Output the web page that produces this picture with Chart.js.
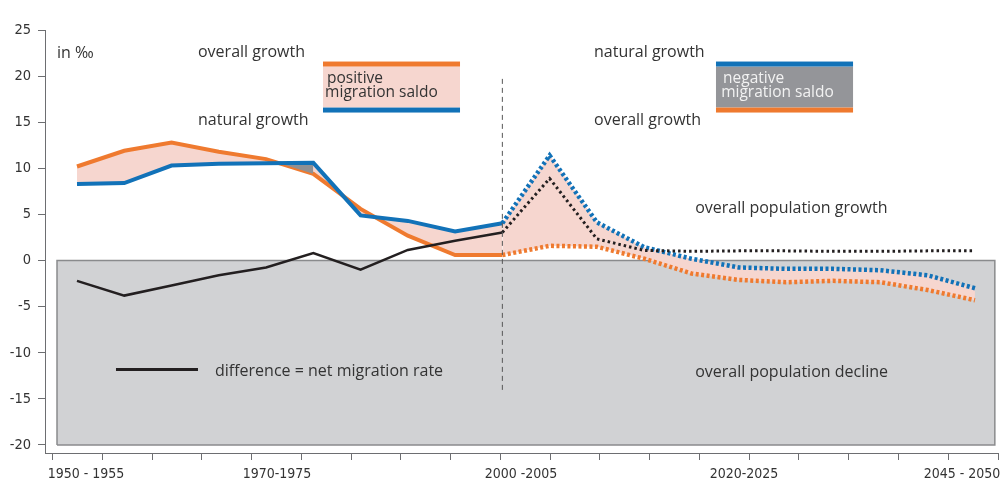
<!DOCTYPE html>
<html><head><meta charset="utf-8">
<script src="https://cdn.jsdelivr.net/npm/chart.js@4.4.1/dist/chart.umd.min.js"></script>
<style>html,body{margin:0;padding:0;background:#fff}canvas{display:block}</style>
</head><body>
<canvas id="c" width="1008" height="487"></canvas>
<script>
// ---- data (rates in per mille, 5-year periods) ----
const periods = ['1950-1955','1955-1960','1960-1965','1965-1970','1970-1975','1975-1980','1980-1985','1985-1990','1990-1995','1995-2000',
                 '2000-2005','2005-2010','2010-2015','2015-2020','2020-2025','2025-2030','2030-2035','2035-2040','2040-2045','2045-2050'];
// observed: periods 0..9 ; projected: periods 9..19
const overallObserved  = [10.2, 11.9, 12.8, 11.8, 11.0, 9.4, 5.6, 2.7, 0.6, 0.6];
const overallProjected = [0.6, 1.6, 1.5, 0.2, -1.4, -2.1, -2.35, -2.2, -2.35, -3.2, -4.3];
const naturalObserved  = [8.3, 8.4, 10.3, 10.5, 10.55, 10.6, 4.9, 4.3, 3.15, 4.05];
const naturalProjected = [4.05, 11.4, 4.15, 1.45, 0.2, -0.75, -0.9, -0.9, -1.05, -1.6, -3.0];
const netObserved      = [-2.2, -3.8, -2.7, -1.6, -0.75, 0.8, -1.0, 1.15, 2.15, 3.05];
const netProjected     = [3.05, 8.9, 2.35, 1.1, 1.0, 1.05, 1.05, 1.0, 1.0, 1.05, 1.05];
const yTickValues = [-20, -15, -10, -5, 0, 5, 10, 15, 20, 25];
const xTickLabels = ['1950 - 1955', '1970-1975', '2000 -2005', '2020-2025', '2045 - 2050'];

// ---- layout / style constants ----
const xLabelPos = [0.669, 4.508, 9.413, 13.896, 18.277]; // on bottom axis units
const xMarkCount = 20;
const ORANGE = '#ef7a2f', BLUE = '#1272b8', BLACK = '#231f20', PINK = '#f6d6cf';
const BOXGRAY = '#d1d2d4', BOXLINE = '#8a8b8d', NEGGRAY = '#949599', AXIS = '#6d6e71', TXT = '#333333';
const TICKFONT = '"Liberation Sans Narrow", "DejaVu Sans Condensed", "Arial Narrow", sans-serif';
const TEXTFONT = '"Open Sans", "DejaVu Sans", sans-serif';

const obs = arr => arr.map((v, i) => ({x: i, y: v}));
const proj = arr => arr.map((v, i) => ({x: i + 9, y: v}));
const boxX0 = -0.423, boxX1 = 19.42;

const datasets = [
  { // 0 grey decline area
    data: [{x: boxX0, y: -20}, {x: boxX0, y: 0}, {x: boxX1, y: 0}, {x: boxX1, y: -20}, {x: boxX0, y: -20}],
    borderColor: BOXLINE, borderWidth: 1.5, backgroundColor: BOXGRAY, fill: 'shape', order: 20
  },
  { // 1 overall observed
    data: obs(overallObserved), borderColor: ORANGE, borderWidth: 4,
    backgroundColor: PINK, fill: {target: 4, above: PINK, below: PINK}, order: 19
  },
  { // 2 grey crossing sliver
    data: obs(overallObserved).slice(3, 6), borderWidth: 0, borderColor: 'rgba(0,0,0,0)',
    fill: {target: 4, above: 'rgba(0,0,0,0)', below: '#8f9093'}, order: 18
  },
  { // 3 overall projected
    data: proj(overallProjected), borderColor: ORANGE, borderWidth: 4.5, borderDash: [3, 2.5],
    backgroundColor: PINK, fill: {target: 5, above: PINK, below: PINK}, order: 17
  },
  { // 4 natural observed
    data: obs(naturalObserved), borderColor: BLUE, borderWidth: 4, fill: false, order: 16
  },
  { // 5 natural projected
    data: proj(naturalProjected), borderColor: BLUE, borderWidth: 4.5, borderDash: [3, 2.5], fill: false, order: 15
  },
  { // 6 net observed
    data: obs(netObserved), borderColor: BLACK, borderWidth: 2.5, fill: false, order: 14
  },
  { // 7 net projected
    data: proj(netProjected), borderColor: BLACK, borderWidth: 3, borderDash: [2.5, 3], fill: false, order: 13
  },
  { // 8 divider between observed and projected
    data: [{x: 9, y: 19.7}, {x: 9, y: -14.4}], borderColor: '#555', borderWidth: 1, borderDash: [5, 4], fill: false, order: 12
  },
  { // 9 legend sample line
    data: [{x: 0.825, y: -11.82}, {x: 2.56, y: -11.82}], borderColor: BLACK, borderWidth: 3, fill: false, order: 11
  }
];

const annotations = {
  id: 'annotations',
  afterDatasetsDraw(chart) {
    const {ctx, scales: {x, y}} = chart;
    const X = v => x.getPixelForValue(v), Y = v => y.getPixelForValue(v);
    ctx.save();
    function legendBox(x0, x1, topColor, fillColor, bottomColor) {
      const l = X(x0), r = X(x1);
      ctx.fillStyle = fillColor; ctx.fillRect(l, Y(21.04), r - l, Y(16.59) - Y(21.04));
      ctx.fillStyle = topColor; ctx.fillRect(l, Y(21.58), r - l, Y(21.04) - Y(21.58));
      ctx.fillStyle = bottomColor; ctx.fillRect(l, Y(16.59), r - l, Y(16.05) - Y(16.59));
    }
    legendBox(5.205, 8.104, ORANGE, PINK, BLUE);
    legendBox(13.52, 16.42, BLUE, NEGGRAY, ORANGE);
    ctx.textBaseline = 'alphabetic';
    ctx.textAlign = 'left';
    const texts = [
      ['in \u2030', -0.423, 22.0, TXT, 16],
      ['overall growth', 2.56, 22.12, TXT, 16],
      ['natural growth', 2.56, 14.75, TXT, 16],
      ['positive', 5.29, 19.2, TXT, 15.5],
      ['migration saldo', 5.25, 17.75, TXT, 15.5],
      ['natural growth', 10.94, 22.12, TXT, 16],
      ['overall growth', 10.94, 14.75, TXT, 16],
      ['negative', 13.67, 19.2, '#f2f2f2', 15.5],
      ['migration saldo', 13.63, 17.75, '#f2f2f2', 15.5],
      ['overall population growth', 13.08, 5.2, TXT, 16],
      ['overall population decline', 13.08, -12.65, TXT, 16],
      ['difference = net migration rate', 2.92, -12.47, TXT, 16]
    ];
    for (const [t, vx, vy, c, fs] of texts) {
      ctx.font = fs + 'px ' + TEXTFONT;
      ctx.fillStyle = c; ctx.fillText(t, X(vx), Y(vy));
    }
    ctx.restore();
  }
};

const labelMap = new Map(xLabelPos.map((p, i) => [p.toFixed(3), xTickLabels[i]]));

new Chart(document.getElementById('c'), {
  type: 'line',
  data: {datasets},
  options: {
    responsive: false,
    animation: false,
    events: [],
    layout: {padding: {top: 30, right: 10, left: 0, bottom: 0}},
    elements: {point: {radius: 0}, line: {tension: 0, borderCapStyle: 'butt', borderJoinStyle: 'miter'}},
    plugins: {legend: {display: false}, tooltip: {enabled: false}},
    scales: {
      x: {type: 'linear', min: -0.677, max: 19.487, display: false},
      xb: {
        type: 'linear', position: 'bottom', min: -0.155, max: 19,
        afterBuildTicks: s => {
          const t = [];
          for (let k = 0; k < xMarkCount; k++) t.push({value: k, mark: true});
          xLabelPos.forEach(p => t.push({value: p, mark: false}));
          t.sort((a, b) => a.value - b.value);
          s.ticks = t;
        },
        afterFit: s => { s.height = 34; },
        grid: {drawOnChartArea: false, tickLength: 7, tickWidth: 1,
               tickColor: c => (c.tick && c.tick.mark) ? AXIS : 'rgba(0,0,0,0)'},
        border: {color: AXIS, width: 1},
        ticks: {autoSkip: false, maxRotation: 0, minRotation: 0, padding: 6, color: TXT,
                font: {family: TICKFONT, size: 14},
                callback: v => labelMap.get(Number(v).toFixed(3)) || ''}
      },
      y: {
        type: 'linear', min: -20.868, max: 25,
        afterBuildTicks: s => { s.ticks = yTickValues.map(v => ({value: v})); },
        afterFit: s => { s.width = 45; },
        grid: {drawOnChartArea: false, tickLength: 7, tickWidth: 1, tickColor: AXIS},
        border: {color: AXIS, width: 1},
        ticks: {padding: 7, color: TXT, font: {family: TICKFONT, size: 14.5}, callback: v => String(v)}
      }
    }
  },
  plugins: [annotations]
});
</script>
</body></html>
